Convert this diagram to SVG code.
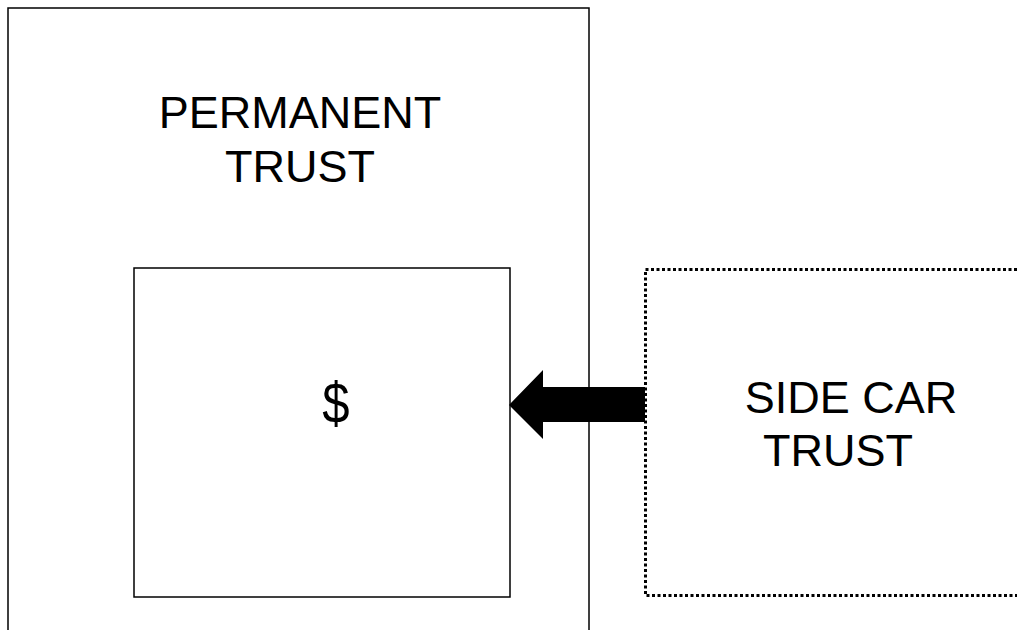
<svg xmlns="http://www.w3.org/2000/svg" width="1017" height="630" viewBox="0 0 1017 630">
  <style>
    .box { fill: #fff; stroke: #000; stroke-width: 1.5; }
    .dotted { fill: #fff; stroke: #000; stroke-width: 3; stroke-dasharray: 3 2.5; }
    .label { font-family: "Liberation Sans", Arial, sans-serif; font-size: 45px; fill: #000; text-anchor: middle; }
  </style>
  <rect width="1017" height="630" fill="#fff"/>
  <g id="permanent-trust">
    <rect class="box" x="8" y="8" width="581" height="640"/>
    <text class="label" x="300" y="128">PERMANENT</text>
    <text class="label" x="300" y="182">TRUST</text>
  </g>
  <g id="fund">
    <rect class="box" x="134" y="268" width="376" height="329"/>
    <text class="label" transform="translate(336,423) scale(1,1.18)" x="0" y="0" style="font-size:49px">$</text>
  </g>
  <g id="side-car-trust">
    <rect class="dotted" x="645.5" y="269.5" width="400" height="326"/>
    <text class="label" x="851" y="413">SIDE CAR</text>
    <text class="label" x="838" y="466">TRUST</text>
  </g>
  <g id="connectors">
    <polygon points="509,405 543,370 543,387 645,387 645,422 543,422 543,439" fill="#000"/>
  </g>
</svg>
